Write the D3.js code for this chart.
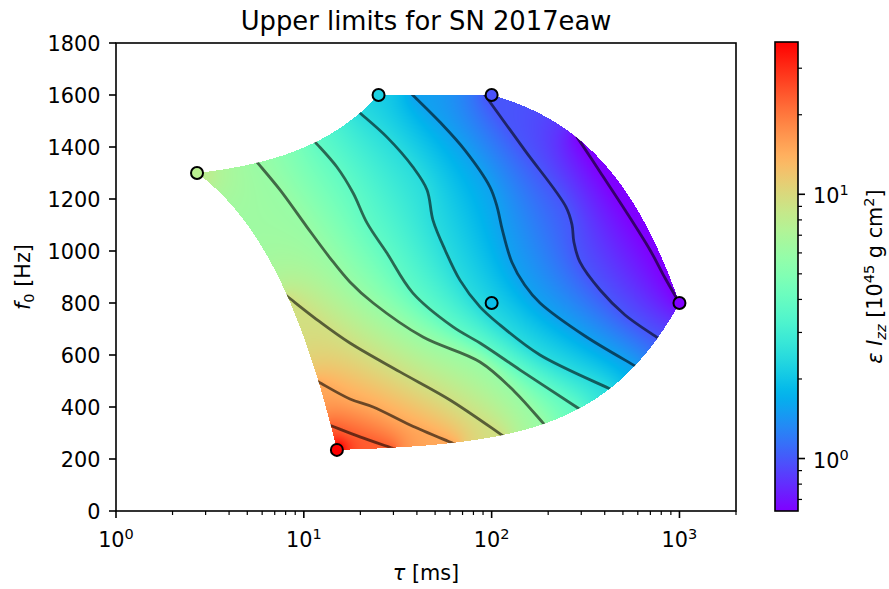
<!DOCTYPE html>
<html>
<head>
<meta charset="utf-8">
<script src="https://cdn.jsdelivr.net/npm/d3@7"></script>
<style>
  body { margin: 0; background: #fff; }
  svg text { font-family: "DejaVu Sans", sans-serif; fill: #000; }
</style>
</head>
<body>
<svg id="chart" width="889" height="589"></svg>
<script>
// marked waveforms: tau [ms], f0 [Hz], upper limit eps*Izz [1e45 g cm^2]
const tauVals = [2.7, 25, 100, 1000, 100, 15];
const f0Vals = [1300, 1600, 1600, 800, 800, 235];
const limitVals = [7.8, 2.2, 0.97, 0.633, 1.9, 37.7];

// contour levels and the traced iso-lines, [tau, f0], low -> high
const contourLevels = [0.633, 0.99, 1.55, 2.44, 3.82, 5.98, 9.37, 14.7, 23.0];
const contourLines = [
  [[285, 1438], [378, 1304], [513, 1158], [697, 1004], [838, 896], [1000, 800]],
  [[92, 1600], [150, 1388], [249, 1169], [268, 1100], [274, 1035], [295, 958], [378, 850], [513, 754], [769, 665]],
  [[38, 1600], [53, 1496], [72, 1388], [98, 1246], [107, 1169], [114, 1081], [128, 958], [150, 869], [181, 800], [314, 673], [580, 558]],
  [[19.9, 1531], [27.7, 1438], [38.1, 1323], [45.3, 1235], [48.7, 1119], [56.5, 1004], [67.8, 888], [86.7, 785], [111, 715], [181, 600], [417, 473]],
  [[11.5, 1419], [15.0, 1323], [18.3, 1223], [21.7, 1108], [27.7, 992], [38.1, 838], [62.3, 708], [86.7, 646], [142, 542], [288, 396]],
  [[5.63, 1342], [7.47, 1235], [10.4, 1092], [13.8, 973], [17.6, 881], [23.4, 800], [43.1, 669], [86.7, 573], [133, 458], [188, 338]],
  [[8.24, 823], [12.2, 727], [17.6, 646], [32.5, 535], [60, 427], [113.5, 292]],
  [[12.0, 496], [17.6, 431], [23.4, 400], [36.8, 331], [61.5, 262]],
  [[14.1, 327], [19.9, 285], [29.5, 242]]
];
// waveforms at the corners of the region whose value also pins the colour field
const pinnedIdx = [0, 5];
const pinRadius = [14, 5];

const xTickVals = [1, 10, 100, 1000];
const yTickVals = d3.range(0, 1801, 200);
const cbTickVals = [1, 10];
const cbRange = [0.633, 37.7];

const svg = d3.select("#chart");
const L = 116, R = 736, T = 43, B = 511;
const FS = 20.8;

const x = d3.scaleLog().domain([1, 2000]).range([L, R]);
const y = d3.scaleLinear().domain([0, 1800]).range([B, T]);
const cb = d3.scaleLog().domain(cbRange).range([511, 42]);

// matplotlib "rainbow"
function rainbow(t) {
  t = Math.max(0, Math.min(1, t));
  const cl = v => Math.max(0, Math.min(1, v));
  return [cl(Math.abs(2 * t - 0.5)) * 255, cl(Math.sin(Math.PI * t)) * 255, cl(Math.cos(Math.PI * t / 2)) * 255];
}
const zMin = Math.log10(cbRange[0]), zMax = Math.log10(cbRange[1]);
const tOf = z => (z - zMin) / (zMax - zMin);
const rgbOf = v => { const c = rainbow(tOf(Math.log10(v))); return d3.rgb(c[0], c[1], c[2]); };

// region covered: convex hull of the waveforms in linear (tau, f0)
const pts = tauVals.map((t, i) => [t, f0Vals[i]]);
const hullData = d3.polygonHull(pts);
const inHull = (px, py) => d3.polygonContains(hullData, [x.invert(px), y.invert(py)]);

const hullLine = [];
hullData.forEach((a, i) => {
  const b = hullData[(i + 1) % hullData.length];
  for (let s = 0; s < 1; s += 0.01) hullLine.push([x(a[0] + s * (b[0] - a[0])), y(a[1] + s * (b[1] - a[1]))]);
});
svg.append("clipPath").attr("id", "hullClip")
  .append("path").attr("d", d3.line()(hullLine) + "Z");

const imgLayer = svg.append("g");

// contour lines (extended a little past the hull, then clipped)
const lineGen = d3.line().curve(d3.curveCatmullRom.alpha(0.5));
function extended(line) {
  const p = line.map(d => [x(d[0]), y(d[1])]);
  const ext = (a, b) => {
    const dx = a[0] - b[0], dy = a[1] - b[1], l = Math.hypot(dx, dy) || 1;
    return [a[0] + 7 * dx / l, a[1] + 7 * dy / l];
  };
  return [ext(p[0], p[1]), ...p, ext(p[p.length - 1], p[p.length - 2])];
}
const contourPaths = svg.append("g").attr("clip-path", "url(#hullClip)")
  .selectAll("path").data(contourLines).join("path")
  .attr("d", d => lineGen(extended(d)))
  .attr("fill", "none").attr("stroke", "#000").attr("stroke-opacity", 0.58)
  .attr("stroke-width", 2.8).attr("stroke-linejoin", "round").attr("stroke-linecap", "round");

// ---- fill: harmonic interpolation between the traced iso-lines
const nx = R - L, ny = B - T, cs = 2;
const gx = Math.ceil(nx / cs), gy = Math.ceil(ny / cs), N = gx * gy;
const val = new Float64Array(N).fill(NaN);
const fixed = new Uint8Array(N), active = new Uint8Array(N);
for (let j = 0; j < gy; j++) for (let i = 0; i < gx; i++) {
  if (inHull(L + cs * i + cs / 2, T + cs * j + cs / 2)) active[j * gx + i] = 1;
}
function setFixed(px, py, z) {
  const i = Math.floor((px - L) / cs), j = Math.floor((py - T) / cs);
  if (i < 0 || j < 0 || i >= gx || j >= gy) return;
  const k = j * gx + i;
  fixed[k] = 1; active[k] = 1; val[k] = z;
}
contourPaths.each(function (d, li) {
  const len = this.getTotalLength(), z = Math.log10(contourLevels[li]);
  for (let s = 0; s <= len; s += 0.6) { const p = this.getPointAtLength(s); setFixed(p.x, p.y, z); }
});
pinnedIdx.forEach((idx, m) => {
  const px = x(tauVals[idx]), py = y(f0Vals[idx]), z = Math.log10(limitVals[idx]), r = pinRadius[m];
  for (let dy = -r; dy <= r; dy += 1) for (let dx = -r; dx <= r; dx += 1)
    if (dx * dx + dy * dy <= r * r) setFixed(px + dx, py + dy, z);
});

function nbrs(k) {
  const i = k % gx, j = (k - i) / gx, out = [];
  if (i > 0) out.push(k - 1);
  if (i < gx - 1) out.push(k + 1);
  if (j > 0) out.push(k - gx);
  if (j < gy - 1) out.push(k + gx);
  return out;
}
// initial guess: nearest fixed value
let queue = [];
for (let k = 0; k < N; k++) if (fixed[k]) queue.push(k);
let seen = new Uint8Array(N);
queue.forEach(k => seen[k] = 1);
for (let q = 0; q < queue.length; q++) {
  const k = queue[q];
  for (const nb of nbrs(k)) if (active[nb] && !seen[nb]) { seen[nb] = 1; val[nb] = val[k]; queue.push(nb); }
}
const free = [], freeNb = [];
for (let k = 0; k < N; k++) if (active[k] && !fixed[k] && seen[k]) {
  free.push(k); freeNb.push(nbrs(k).filter(nb => active[nb] && seen[nb]));
}
const omega = 1.9;
for (let it = 0; it < 1500; it++) {
  for (let m = 0; m < free.length; m++) {
    const nb = freeNb[m];
    if (!nb.length) continue;
    let s = 0;
    for (let q = 0; q < nb.length; q++) s += val[nb[q]];
    const k = free[m];
    val[k] += omega * (s / nb.length - val[k]);
  }
}
// pad outside cells with nearest value so bilinear sampling works at the edge
queue = [];
seen = new Uint8Array(N);
for (let k = 0; k < N; k++) if (!isNaN(val[k])) { queue.push(k); seen[k] = 1; }
for (let q = 0; q < queue.length; q++) {
  const k = queue[q];
  for (const nb of nbrs(k)) if (!seen[nb]) { seen[nb] = 1; val[nb] = val[k]; queue.push(nb); }
}

const canvas = document.createElement("canvas");
canvas.width = nx; canvas.height = ny;
const ctx = canvas.getContext("2d");
const img = ctx.createImageData(nx, ny);
for (let j = 0; j < ny; j++) {
  for (let i = 0; i < nx; i++) {
    if (!inHull(L + i + 0.5, T + j + 0.5)) continue;
    let u = (i + 0.5) / cs - 0.5, v = (j + 0.5) / cs - 0.5;
    u = Math.max(0, Math.min(gx - 1.001, u)); v = Math.max(0, Math.min(gy - 1.001, v));
    const i0 = Math.floor(u), j0 = Math.floor(v), a = u - i0, b = v - j0;
    const z = (1 - a) * (1 - b) * val[j0 * gx + i0] + a * (1 - b) * val[j0 * gx + i0 + 1] +
      (1 - a) * b * val[(j0 + 1) * gx + i0] + a * b * val[(j0 + 1) * gx + i0 + 1];
    const col = rainbow(tOf(z));
    const o = 4 * (j * nx + i);
    img.data[o] = col[0]; img.data[o + 1] = col[1]; img.data[o + 2] = col[2]; img.data[o + 3] = 255;
  }
}
ctx.putImageData(img, 0, 0);
imgLayer.append("image")
  .attr("x", L).attr("y", T).attr("width", nx).attr("height", ny)
  .attr("href", canvas.toDataURL());

// markers
svg.append("g").selectAll("circle").data(d3.range(pts.length)).join("circle")
  .attr("cx", i => x(tauVals[i])).attr("cy", i => y(f0Vals[i])).attr("r", 6)
  .attr("fill", i => rgbOf(limitVals[i]))
  .attr("stroke", "#000").attr("stroke-width", 2);

// axes frame
svg.append("rect").attr("x", L).attr("y", T).attr("width", R - L).attr("height", B - T)
  .attr("fill", "none").attr("stroke", "#000").attr("stroke-width", 1.6);

// x ticks
const xMinor = [];
[1, 10, 100, 1000].forEach(d => { for (let k = 2; k <= 9; k++) if (d * k <= 2000) xMinor.push(d * k); });
svg.append("g").selectAll("line").data(xMinor).join("line")
  .attr("x1", d => x(d)).attr("x2", d => x(d)).attr("y1", B).attr("y2", B + 4)
  .attr("stroke", "#000").attr("stroke-width", 1.2);
svg.append("g").selectAll("line").data(xTickVals).join("line")
  .attr("x1", d => x(d)).attr("x2", d => x(d)).attr("y1", B).attr("y2", B + 7)
  .attr("stroke", "#000").attr("stroke-width", 1.6);
const xl = svg.append("g").selectAll("text").data(xTickVals).join("text")
  .attr("x", d => x(d)).attr("y", 547).attr("text-anchor", "middle").attr("font-size", FS);
xl.append("tspan").text("10");
xl.append("tspan").attr("dy", -8).attr("font-size", 14.5).text(d => Math.round(Math.log10(d)));

// y ticks
svg.append("g").selectAll("line").data(yTickVals).join("line")
  .attr("x1", L - 7).attr("x2", L).attr("y1", d => y(d)).attr("y2", d => y(d))
  .attr("stroke", "#000").attr("stroke-width", 1.6);
svg.append("g").selectAll("text").data(yTickVals).join("text")
  .attr("x", 100.5).attr("y", d => y(d) + 7.5).attr("text-anchor", "end").attr("font-size", FS)
  .text(d => d);

// titles
svg.append("text").attr("x", (L + R) / 2).attr("y", 30).attr("text-anchor", "middle")
  .attr("font-size", 25.8).text("Upper limits for SN 2017eaw");
const xt = svg.append("text").attr("x", (L + R) / 2).attr("y", 580).attr("text-anchor", "middle").attr("font-size", FS);
xt.append("tspan").attr("font-style", "italic").text("τ");
xt.append("tspan").text(" [ms]");
const yt = svg.append("text").attr("transform", `translate(30,${(T + B) / 2}) rotate(-90)`)
  .attr("text-anchor", "middle").attr("font-size", FS);
yt.append("tspan").attr("font-style", "italic").text("f");
yt.append("tspan").attr("font-size", 14.5).attr("dy", 4).text("0");
yt.append("tspan").attr("dy", -4).text(" [Hz]");

// colorbar
const cbL = 775, cbW = 23;
const grd = svg.append("defs").append("linearGradient").attr("id", "cbGrad")
  .attr("x1", 0).attr("y1", 1).attr("x2", 0).attr("y2", 0);
d3.range(0, 1.0001, 0.02).forEach(t => {
  const c = rainbow(t);
  grd.append("stop").attr("offset", t).attr("stop-color", d3.rgb(c[0], c[1], c[2]));
});
svg.append("rect").attr("x", cbL).attr("y", cb.range()[1]).attr("width", cbW)
  .attr("height", cb.range()[0] - cb.range()[1]).attr("fill", "url(#cbGrad)")
  .attr("stroke", "#000").attr("stroke-width", 1.6);
const cbMinor = [];
[0.1, 1, 10].forEach(d => { for (let k = 2; k <= 9; k++) { const v = d * k; if (v >= cbRange[0] && v <= cbRange[1]) cbMinor.push(v); } });
svg.append("g").selectAll("line").data(cbMinor).join("line")
  .attr("x1", cbL + cbW).attr("x2", cbL + cbW + 4).attr("y1", d => cb(d)).attr("y2", d => cb(d))
  .attr("stroke", "#000").attr("stroke-width", 1.2);
svg.append("g").selectAll("line").data(cbTickVals).join("line")
  .attr("x1", cbL + cbW).attr("x2", cbL + cbW + 7).attr("y1", d => cb(d)).attr("y2", d => cb(d))
  .attr("stroke", "#000").attr("stroke-width", 1.6);
const cl = svg.append("g").selectAll("text").data(cbTickVals).join("text")
  .attr("x", 813).attr("y", d => cb(d) + 9).attr("font-size", FS);
cl.append("tspan").text("10");
cl.append("tspan").attr("dy", -8).attr("font-size", 14.5).text(d => Math.round(Math.log10(d)));
const ct = svg.append("text").attr("transform", `translate(882,${(42 + 511) / 2}) rotate(-90)`)
  .attr("text-anchor", "middle").attr("font-size", FS);
ct.append("tspan").attr("font-style", "italic").text("ε I");
ct.append("tspan").attr("font-style", "italic").attr("font-size", 14.5).attr("dy", 4).text("zz");
ct.append("tspan").attr("dy", -4).text(" [10");
ct.append("tspan").attr("font-size", 14.5).attr("dy", -8).text("45");
ct.append("tspan").attr("dy", 8).text(" g cm");
ct.append("tspan").attr("font-size", 14.5).attr("dy", -8).text("2");
ct.append("tspan").attr("dy", 8).text("]");
</script>
</body>
</html>
